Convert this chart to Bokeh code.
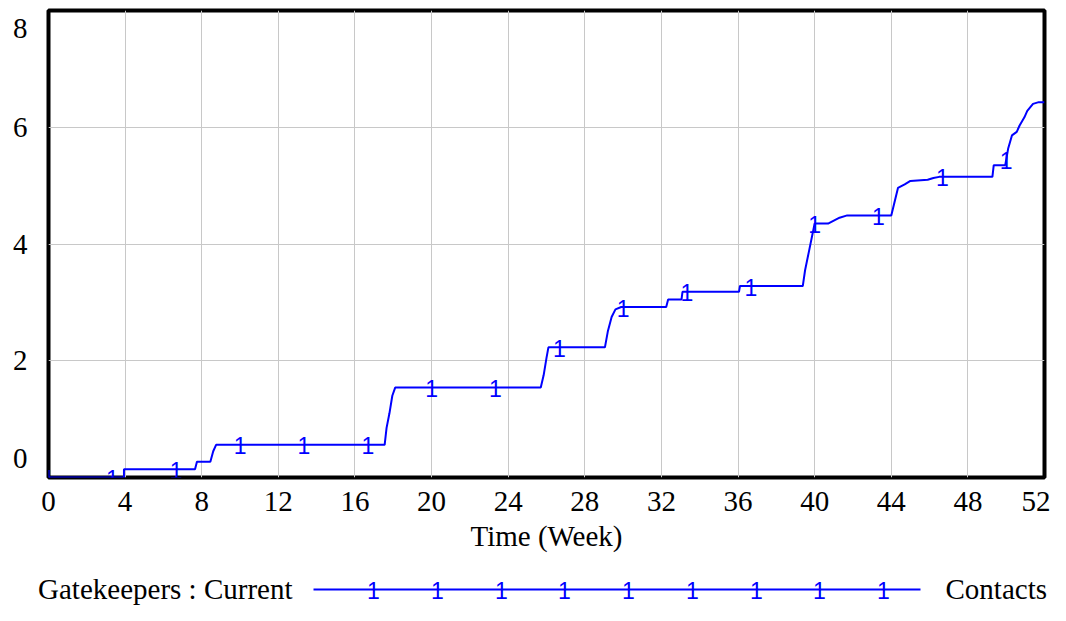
import numpy as np
from bokeh.plotting import figure
from bokeh.models import Range1d, FixedTicker, CustomJSTickFormatter
from bokeh.layouts import column, row
from bokeh.core.properties import value
from bokeh.embed import file_html
from bokeh.resources import INLINE

# ---- data ----
weeks = [0, 3.94, 3.94, 7.65, 7.75, 8.45, 8.6, 8.75, 17.55, 17.65, 17.8, 17.95, 18.1,
         25.7, 25.85, 26.0, 26.1, 29.05, 29.2, 29.4, 29.6, 29.9, 32.25, 32.35, 33.05,
         33.1, 36.05, 36.1, 39.38, 39.5, 39.7, 40.0, 40.7, 41.0, 41.3, 41.7, 44.0,
         44.15, 44.35, 44.7, 45.0, 45.9, 46.2, 46.5, 49.28, 49.35, 49.95, 50.1, 50.3,
         50.55, 50.7, 50.95, 51.1, 51.4, 51.7, 52]
contacts = [0.0, 0.0, 0.14, 0.14, 0.27, 0.27, 0.45, 0.56, 0.56, 0.85, 1.1, 1.4, 1.54,
            1.54, 1.75, 2.05, 2.23, 2.23, 2.5, 2.75, 2.88, 2.92, 2.92, 3.05, 3.05,
            3.18, 3.18, 3.28, 3.28, 3.55, 3.87, 4.35, 4.35, 4.4, 4.45, 4.49, 4.49,
            4.69, 4.96, 5.02, 5.08, 5.10, 5.13, 5.15, 5.15, 5.35, 5.35, 5.63, 5.86,
            5.92, 6.03, 6.17, 6.28, 6.40, 6.43, 6.43]
marker_weeks = [0, 3.33, 6.67, 10, 13.33, 16.67, 20, 23.33, 26.67, 30, 33.33, 36.67,
                40, 43.33, 46.67, 50]
x_ticks = [0, 4, 8, 12, 16, 20, 24, 28, 32, 36, 40, 44, 48, 52]
y_tick_pos = [0.32, 2, 4, 6, 7.7]   # label anchors (end labels drawn inset)
y_grid = [2, 4, 6]
series_label = "Gatekeepers : Current"
series_units = "Contacts"
x_title = "Time (Week)"

BLUE = "#0000ff"
SERIF = "Liberation Serif"
SANS = "Liberation Sans"

marker_vals = list(np.interp(marker_weeks, weeks, contacts))

# ---- main chart ----
p = figure(width=1050, height=560, x_range=Range1d(0, 52), y_range=Range1d(0, 8),
           output_backend="svg", toolbar_location=None,
           min_border_left=48, min_border_right=6, min_border_top=10, min_border_bottom=83)
p.background_fill_color = "white"
p.border_fill_color = "white"
p.outline_line_color = "black"
p.outline_line_width = 4
p.outline_line_alpha = 1.0

p.xgrid.ticker = FixedTicker(ticks=x_ticks[1:-1])
p.ygrid.ticker = FixedTicker(ticks=y_grid)
p.grid.grid_line_color = "#c8c8c8"
p.grid.grid_line_width = 1

xa = p.xaxis[0]
xa.ticker = FixedTicker(ticks=x_ticks)
xa.axis_line_color = None
xa.major_tick_line_color = None
xa.minor_tick_line_color = None
xa.major_tick_out = 0
xa.major_label_standoff = 14
xa.major_label_text_font = SERIF
xa.major_label_text_font_size = "29px"
xa.major_label_text_color = "black"
xa.axis_label = x_title
xa.axis_label_text_font = SERIF
xa.axis_label_text_font_size = "29px"
xa.axis_label_text_font_style = "normal"
xa.axis_label_text_color = "black"
xa.axis_label_standoff = 6

ya = p.yaxis[0]
ya.ticker = FixedTicker(ticks=y_tick_pos)
ya.formatter = CustomJSTickFormatter(code="return Math.round(tick).toString()")
ya.axis_line_color = None
ya.major_tick_line_color = None
ya.minor_tick_line_color = None
ya.major_tick_out = 0
ya.major_label_standoff = 21
ya.major_label_text_font = SERIF
ya.major_label_text_font_size = "29px"
ya.major_label_text_color = "black"

p.line(weeks, contacts, line_color=BLUE, line_width=2)
p.text(x=marker_weeks, y=marker_vals, text=["1"] * len(marker_weeks),
       text_font=value(SANS), text_font_size="23px", text_color=BLUE,
       text_align="center", text_baseline="middle", y_offset=1)

# ---- legend strip (its own small figure, x/y in pixels) ----
leg = figure(width=1050, height=45, x_range=Range1d(0, 1050), y_range=Range1d(45, 0),
             output_backend="svg", toolbar_location=None, min_border=0,
             x_axis_type=None, y_axis_type=None)
leg.grid.visible = False
leg.outline_line_color = None
leg.background_fill_color = "white"
leg.border_fill_color = "white"
LY = 29
leg.line([313, 920], [LY, LY], line_color=BLUE, line_width=2)
leg_marks = [373, 437, 501, 564, 628, 692, 756, 819, 883]
leg.text(x=leg_marks, y=[LY] * len(leg_marks), text=["1"] * len(leg_marks),
         text_font=value(SANS), text_font_size="23px", text_color=BLUE,
         text_align="center", text_baseline="middle", y_offset=1)
leg.text(x=[292], y=[LY - 1], text=[series_label], text_font=value(SERIF),
         text_font_size="29px", text_color="black", text_align="right",
         text_baseline="middle")
leg.text(x=[945], y=[LY - 1], text=[series_units], text_font=value(SERIF),
         text_font_size="29px", text_color="black", text_align="left",
         text_baseline="middle")

layout = column(p, row(leg))
open("out.html", "w").write(file_html(layout, INLINE))
